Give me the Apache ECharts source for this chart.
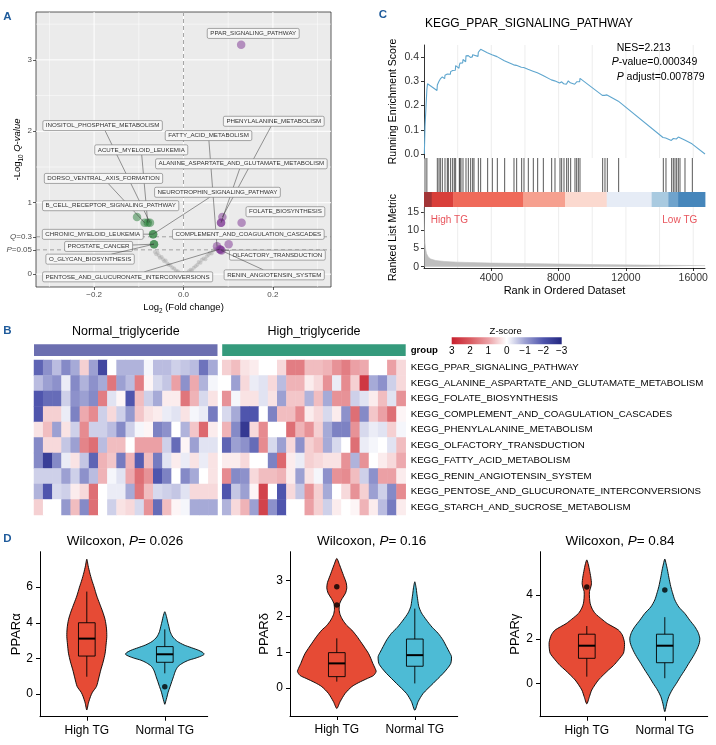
<!DOCTYPE html>
<html>
<head>
<meta charset="utf-8">
<script src="https://cdn.jsdelivr.net/npm/echarts@6.0.0/dist/echarts.min.js"></script>
<style>
html,body{margin:0;padding:0;background:#ffffff;}
#chart{width:716px;height:745px;}
</style>
</head>
<body>
<div id="chart"></div>
<script>
// ================= DATA =================
// ---- Panel A : volcano (log2 fold change, -log10 Q) ----
const greyPoints = [[-0.064,0.31],[-0.061,0.28],[-0.058,0.30],[-0.055,0.26],[-0.053,0.23],[-0.049,0.24],[-0.046,0.21],[-0.043,0.18],[-0.040,0.19],[-0.036,0.15],[-0.033,0.13],[-0.029,0.12],[-0.025,0.09],[-0.021,0.08],[-0.017,0.05],[-0.013,0.04],[-0.009,0.02],[-0.004,0.01],
  [0.003,0.01],[0.008,0.02],[0.012,0.04],[0.016,0.06],[0.019,0.05],[0.023,0.09],[0.027,0.11],[0.031,0.13],[0.034,0.17],[0.038,0.16],[0.041,0.20],[0.045,0.22],[0.049,0.21],[0.052,0.25],[0.056,0.27],[0.059,0.30],[0.063,0.29],[0.066,0.33],[0.070,0.35]];
const downPoints = [[-0.104,0.80],[-0.087,0.72],[-0.080,0.72],[-0.075,0.72],[-0.068,0.56],[-0.068,0.56],[-0.066,0.42],[-0.066,0.42]];
const upPoints = [[0.129,3.21],[0.087,0.80],[0.084,0.72],[0.084,0.72],[0.130,0.72],[0.101,0.42],[0.075,0.39],[0.083,0.34],[0.081,0.35],[0.085,0.33]];
const labelNames = ['PPAR_SIGNALING_PATHWAY','INOSITOL_PHOSPHATE_METABOLISM','FATTY_ACID_METABOLISM','PHENYLALANINE_METABOLISM','ACUTE_MYELOID_LEUKEMIA','ALANINE_ASPARTATE_AND_GLUTAMATE_METABOLISM','DORSO_VENTRAL_AXIS_FORMATION','NEUROTROPHIN_SIGNALING_PATHWAY','B_CELL_RECEPTOR_SIGNALING_PATHWAY','FOLATE_BIOSYNTHESIS','CHRONIC_MYELOID_LEUKEMIA','COMPLEMENT_AND_COAGULATION_CASCADES','PROSTATE_CANCER','O_GLYCAN_BIOSYNTHESIS','OLFACTORY_TRANSDUCTION','PENTOSE_AND_GLUCURONATE_INTERCONVERSIONS','RENIN_ANGIOTENSIN_SYSTEM'];
const labelAt = [[0.156,3.37],[-0.181,2.08],[0.056,1.94],[0.202,2.14],[-0.0945,1.74],[0.1295,1.545],[-0.179,1.34],[0.076,1.146],[-0.163,0.958],[0.228,0.874],[-0.203,0.557],[0.145,0.557],[-0.19,0.388],[-0.209,0.21],[0.21,0.266],[-0.125,-0.038],[0.203,-0.01]];
const labelPoint = [[0.129,3.21],[-0.075,0.72],[0.075,0.39],[0.087,0.80],[-0.080,0.72],[0.084,0.72],[-0.087,0.72],[-0.068,0.56],[-0.104,0.80],[0.130,0.72],[-0.068,0.56],[0.101,0.42],[-0.066,0.42],[-0.066,0.42],[0.083,0.34],[0.081,0.35],[0.085,0.33]];
const volcanoXTicks = [-0.2, 0, 0.2];
const volcanoYTicks = [0, 0.34, 0.523, 1, 2, 3];
const pThreshold = 0.34, qThreshold = 0.523;

// ---- Panel C : GSEA ----
const esCurve = [[20,0],[60,0.113],[150,0.108],[170,0.265],[210,0.29],[772,0.262],[792,0.285],[871,0.281],[891,0.3],[950,0.297],[970,0.31],[1069,0.305],[1089,0.318],[1228,0.311],[1248,0.325],[1366,0.318],[1386,0.33],[1436,0.327],[1446,0.335],[1565,0.329],[1584,0.34],[1683,0.334],[1703,0.345],[1782,0.34],[1802,0.35],[1862,0.346],[1881,0.365],[2080,0.354],[2099,0.366],[2129,0.364],[2139,0.375],[2179,0.373],[2198,0.382],[2298,0.376],[2317,0.39],[2476,0.381],[2496,0.405],[2614,0.398],[2634,0.406],[2753,0.399],[2773,0.407],[2872,0.401],[2892,0.41],[2951,0.406],[2971,0.417],[3209,0.403],[3229,0.42],[3347,0.413],[3367,0.432],[3763,0.418],[3783,0.425],[4041,0.41],[4060,0.417],[4338,0.402],[4358,0.408],[4774,0.385],[4794,0.392],[5328,0.368],[5348,0.374],[5487,0.366],[5507,0.372],[5784,0.358],[5804,0.364],[5923,0.357],[5943,0.363],[6180,0.35],[6200,0.356],[6477,0.342],[6497,0.348],[6735,0.335],[6755,0.341],[7072,0.324],[7092,0.33],[7567,0.306],[7587,0.312],[7765,0.302],[7785,0.308],[8062,0.293],[8082,0.298],[8161,0.293],[8181,0.298],[8300,0.29],[8320,0.296],[8458,0.288],[8478,0.294],[8557,0.29],[8577,0.302],[8696,0.294],[8716,0.3],[8954,0.288],[8973,0.295],[9053,0.29],[9073,0.298],[9152,0.294],[9172,0.302],[9251,0.298],[9271,0.312],[10598,0.242],[10618,0.248],[10737,0.242],[10756,0.25],[10875,0.244],[10895,0.25],[11549,0.218],[11568,0.224],[14203,0.068],[14223,0.074],[14361,0.066],[14381,0.072],[14699,0.056],[14719,0.062],[14798,0.058],[14818,0.064],[14897,0.06],[14917,0.066],[14996,0.062],[15016,0.07],[15095,0.066],[15115,0.07],[15194,0.066],[15214,0.07],[15491,0.058],[15511,0.062],[15927,0.042],[15947,0.046],[16700,0.0]];
const hitRanks = [60,170,792,891,970,1089,1248,1386,1446,1584,1703,1802,1881,2099,2139,2198,2317,2496,2634,2773,2892,2971,3229,3367,3783,4060,4358,4794,5348,5507,5804,5943,6200,6497,6755,7092,7587,7785,8082,8181,8320,8478,8577,8716,8973,9073,9172,9271,10618,10756,10895,11568,14223,14381,14719,14818,14917,15016,15115,15214,15511,15947];
const metricCurve = [[1,16.5],[10,14],[25,10],[50,7],[90,5],[150,3.6],[250,2.7],[400,2.1],[700,1.7],[1200,1.45],[2000,1.25],[4000,1.0],[7000,0.8],[10000,0.6],[13000,0.45],[16700,0.3]];
const colourBarBreaks = [0,460,1740,5900,8380,10860,13530,14520,15100,16700];
const esTicks = [0,0.1,0.2,0.3,0.4];
const rankTicks = [4000,8000,12000,16000];
const metricTicks = [0,5,10,15];
const rankGrid = [2000,4000,6000,8000,10000,12000,14000,16000];
const gseaStats = {NES:'2.213', pvalue:'0.000349', padj:'0.007879'};

// ---- Panel B : heatmap (z-scores) ----
const pathways = ['KEGG_PPAR_SIGNALING_PATHWAY','KEGG_ALANINE_ASPARTATE_AND_GLUTAMATE_METABOLISM','KEGG_FOLATE_BIOSYNTHESIS','KEGG_COMPLEMENT_AND_COAGULATION_CASCADES','KEGG_PHENYLALANINE_METABOLISM','KEGG_OLFACTORY_TRANSDUCTION','KEGG_FATTY_ACID_METABOLISM','KEGG_RENIN_ANGIOTENSIN_SYSTEM','KEGG_PENTOSE_AND_GLUCURONATE_INTERCONVERSIONS','KEGG_STARCH_AND_SUCROSE_METABOLISM'];
const normalSamples = ['N01','N02','N03','N04','N05','N06','N07','N08','N09','N10','N11','N12','N13','N14','N15','N16','N17','N18','N19','N20'];
const highSamples = ['H01','H02','H03','H04','H05','H06','H07','H08','H09','H10','H11','H12','H13','H14','H15','H16','H17','H18','H19','H20'];
const normalZ = [
 [-1.8,-1.2,-0.7,-1.3,-0.9,0.5,-1.0,-2.3,0,-0.8,-0.8,-0.8,-0.1,-0.7,-0.7,-0.5,-0.6,-0.7,-1.6,-0.9],
 [-0.7,-1.0,-1.2,-0.2,-1.3,-0.8,-1.2,-0.9,1.6,-1.0,-0.7,1.5,0.1,-0.4,-0.6,1.0,-1.2,0.9,-0.8,-0.1],
 [-2.0,-1.7,-1.7,-0.5,-1.2,-1.0,-1.3,1.5,-0.3,0.1,-2.0,0.7,-0.5,-0.9,0.2,0.2,1.6,0.8,-0.4,0.3],
 [-2.0,0.5,0.5,-0.2,-1.4,0.9,1.3,-0.5,0.4,-0.5,-1.1,0.6,0.3,0.2,-0.2,-0.3,0.3,-0.1,-0.2,-1.5],
 [0.3,0.7,-1.0,0.3,-0.5,1.3,-0.5,-0.5,-0.7,-1.3,-0.5,-0.1,0.1,-1.4,-1.2,0,-0.8,0.6,1.8,0.2],
 [-1.3,0.4,0.4,-0.6,-1.0,1.4,1.7,-0.7,0.7,0.7,0,1.0,1.0,1.0,-0.5,-1.7,0.1,-1.0,-0.3,-0.3],
 [-1.3,-2.5,-1.3,-0.2,0.3,-0.6,-1.8,0.8,0.6,-1.5,0.8,-1.9,0.7,-1.5,-0.3,0.2,-0.2,0.3,-0.2,0.3],
 [-0.5,-0.5,-0.5,-1.0,-0.5,-1.2,-0.7,0.8,-0.1,-0.3,0.9,1.7,1.2,-2.0,-1.4,0,-1.3,-0.9,0,0.3],
 [-0.8,-2.0,-0.4,-0.5,0.2,0.4,1.7,0,-0.2,-0.2,-0.9,1.6,0.7,-0.4,-0.5,-0.6,-0.3,0.4,0.4,0.4],
 [0.5,0,0,-1.1,0.7,-1.3,1.7,0,-0.5,0.3,0.4,-0.4,1.2,-1.7,0.7,0.1,-0.1,-0.9,-0.9,-0.9]
];
const highZ = [
 [0.5,0.7,0.3,0.2,0,0,0.4,1.5,1.5,0.7,0.7,0.8,1.2,1.5,1.0,0.9,0,0,1.0,0.4],
 [0,-1.0,0.4,-0.2,-0.3,0.4,-0.7,0.8,0.8,0.2,0.4,1.2,-0.2,1.3,0.5,2.6,-0.9,-1.2,-0.5,0.4],
 [1.2,-0.1,0.3,0.3,-0.3,0.3,-1.0,0.6,0.6,-0.8,0.7,-0.9,1.2,1.2,-0.5,-0.3,0.2,0.7,-0.3,1.2],
 [-0.4,-0.9,-2.0,-2.0,0,-1.4,0.7,0.7,1.3,0.2,0.4,-0.4,0.2,-1.2,1.7,-1.3,0.6,1.0,1.7,0.1],
 [0.8,-1.3,-2.6,0.4,1.3,0,0,1.7,0.8,1.2,0.5,-0.9,-1.4,-1.4,1.2,-0.4,-0.2,-0.3,0.5,-0.1],
 [-1.8,-1.0,-1.2,-1.7,1.3,-0.4,-1.0,0.4,-1.2,0.5,0.7,-0.9,-0.4,0,1.7,-0.2,-0.1,0,-0.3,0.7],
 [0.2,0.2,0.4,0,0,-1.4,1.8,0.2,-0.2,0.5,0.4,0.3,0.3,1.2,-0.8,1.2,0,0.2,0.4,0.9],
 [1.3,-1.3,-1.2,0.4,0.7,0.7,0.8,0.2,-1.0,0.3,-0.1,-1.2,1.2,1.3,0.7,-0.5,-1.2,1.0,1.0,0.2],
 [-2.0,-0.6,-1.0,0.1,2.4,0,-2.0,0.4,-0.6,1.2,0.5,-0.9,0,0.4,1.2,0.5,-1.0,-0.5,-1.3,1.3],
 [-0.8,0.4,0.8,-1.0,2.4,-1.2,-2.0,0,0,1.0,0.5,-0.5,0.2,0,0.1,0.8,0.2,-0.7,-1.5,0.2]
];

// ---- Panel D : violins ----
const violinGroups = ['High TG','Normal TG'];
const genes = ['PPARα','PPARδ','PPARγ'];
const wilcoxonP = ['0.026','0.16','0.84'];
const densPPARaHigh = [[7.57,0],[7.2,4],[6.8,9],[6.4,15],[6.0,22],[5.5,30],[5.1,38],[4.6,48],[4.17,55],[3.7,59],[3.23,60],[2.8,58],[2.29,55],[1.8,49],[1.35,42],[0.9,36],[0.42,29],[0.1,17],[-0.15,11],[-0.5,5],[-0.9,0]];
const densPPARaNormal = [[4.62,0],[4.35,5],[4.1,8],[3.8,12],[3.5,16],[3.2,24],[2.95,38],[2.75,58],[2.6,80],[2.45,102],[2.33,114],[2.23,118],[2.12,108],[2.0,90],[1.9,72],[1.75,55],[1.55,40],[1.3,32],[0.97,26],[0.7,21],[0.42,16],[0.1,10],[-0.2,6],[-0.4,3],[-0.58,0]];
const densPPARdHigh = [[3.62,0],[3.45,8],[3.3,14],[3.1,22],[2.95,28],[2.8,30],[2.65,26],[2.5,16],[2.37,9],[2.2,7],[2.05,10],[1.9,18],[1.75,30],[1.62,45],[1.45,60],[1.25,75],[1.1,86],[0.97,95],[0.83,102],[0.69,108],[0.55,115],[0.46,118],[0.35,110],[0.27,92],[0.15,65],[0.04,45],[-0.15,25],[-0.38,10],[-0.57,0]];
const densPPARdNormal = [[2.97,0],[2.8,4],[2.65,6],[2.45,9],[2.28,12],[2.1,20],[1.9,35],[1.7,52],[1.53,70],[1.35,84],[1.16,95],[1.0,104],[0.88,110],[0.69,108],[0.55,98],[0.41,85],[0.27,70],[0.13,55],[-0.15,25],[-0.38,10],[-0.62,0]];
const densPPARgHigh = [[5.58,0],[5.35,5],[5.13,8],[4.8,12],[4.5,14],[4.3,11],[4.15,8],[3.9,8],[3.62,10],[3.4,15],[3.16,25],[2.9,45],[2.7,62],[2.41,95],[2.2,106],[2.04,110],[1.85,113],[1.66,113],[1.36,110],[1.06,95],[0.8,80],[0.6,65],[0.15,35],[-0.3,15],[-0.6,8],[-0.93,0]];
const densPPARgNormal = [[5.62,0],[5.4,4],[5.13,8],[4.8,12],[4.37,18],[4.1,23],[3.77,30],[3.45,42],[3.16,60],[2.85,75],[2.56,90],[2.3,100],[2.04,105],[1.85,104],[1.66,100],[1.4,92],[1.21,85],[0.9,72],[0.6,60],[0.3,47],[0.0,35],[-0.3,22],[-0.6,12],[-0.9,6],[-1.05,4],[-1.28,0]];
// box stats: [lower whisker, Q1, median, Q3, upper whisker]
const boxPPARa = [[0.97,2.13,3.11,4.0,5.75],[1.16,1.78,2.23,2.66,3.63]];
const boxPPARd = [[0.18,0.32,0.69,0.99,1.39],[0.13,0.61,0.92,1.37,2.22]];
const boxPPARg = [[0.30,1.13,1.70,2.22,2.59],[0.23,0.93,1.70,2.22,2.99]];
const outPPARa = [[],[0.41]];
const outPPARd = [[2.83,2.32],[]];
const outPPARg = [[4.35],[4.22]];
const violinTicks = [[0,2,4,6],[0,1,2,3],[0,2,4]];

// ================= CHART =================
const FF = 'Liberation Sans';
const violinDensity = [[densPPARaHigh,densPPARaNormal],[densPPARdHigh,densPPARdNormal],[densPPARgHigh,densPPARgNormal]];
const boxStats = [boxPPARa, boxPPARd, boxPPARg];
const outliers = [outPPARa, outPPARd, outPPARg];
const violinYRange = [[-1.275,7.99],[-0.78,3.81],[-1.51,5.95]];
const violinNameGap = [17, 19, 18];
const VSCALE = 1/234, BOX_HALF = 0.107;
const VIOLIN_COLOURS = ['#E64B35','#4DBBD5'];
const HEAT_COLOURS = ['#232780','#4F55AD','#9CA0D2','#FFFFFF','#EBA0A5','#D95A60','#C8202E'];
const BAR_COLOURS = ['#A23537','#D93F3A','#EF6A5A','#F6A08F','#FBD9CF','#E6ECF6','#A9CAE0','#6FA3CC','#4686BB'];
const GROUP_COLOURS = ['#6C6FB0','#359A7C'];
const HIT_BOTTOM = 0.306;
const LABEL_FONT = '6.2px "Liberation Sans"';

const mctx = document.createElement('canvas').getContext('2d');
function textW(t, font){ mctx.font = font; return mctx.measureText(t).width; }

function refLines(xi, yi, vals, vertical, ref, style, z){
  return {type:'custom', xAxisIndex:xi, yAxisIndex:yi, silent:true, z:z, clip:false,
    data: vals.map(v => vertical ? [v, ref] : [ref, v]),
    renderItem: function(params, api){
      const cs = params.coordSys;
      const pt = api.coord([api.value(0), api.value(1)]);
      const shape = vertical ? {x1:pt[0], y1:cs.y, x2:pt[0], y2:cs.y+cs.height}
                             : {x1:cs.x, y1:pt[1], x2:cs.x+cs.width, y2:pt[1]};
      return {type:'line', shape: shape, style: style};
    }};
}

function renderLabel(params, api){
  const i = params.dataIndex;
  const c = api.coord([api.value(0), api.value(1)]);
  const p = api.coord([api.value(2), api.value(3)]);
  const name = labelNames[i];
  const w = textW(name, LABEL_FONT) + 6, h = 10, hw = w/2, hh = h/2;
  const children = [];
  const ddx = Math.max(0, Math.abs(p[0]-c[0]) - hw), ddy = Math.max(0, Math.abs(p[1]-c[1]) - hh);
  if (Math.hypot(ddx, ddy) > 8) {
    const dx = p[0]-c[0], dy = p[1]-c[1];
    const t = Math.min(dx !== 0 ? hw/Math.abs(dx) : Infinity, dy !== 0 ? hh/Math.abs(dy) : Infinity);
    children.push({type:'line', shape:{x1:c[0]+dx*t, y1:c[1]+dy*t, x2:p[0], y2:p[1]}, style:{stroke:'#333', lineWidth:0.5}});
  }
  children.push({type:'rect', shape:{x:c[0]-hw, y:c[1]-hh, width:w, height:h, r:1.5}, style:{fill:'#F6F6F6', stroke:'#707070', lineWidth:0.6}});
  children.push({type:'text', x:c[0], y:c[1], style:{text:name, font:LABEL_FONT, fill:'#333', textAlign:'center', textVerticalAlign:'middle'}});
  return {type:'group', children: children};
}

function violinRenderer(g){
  return function(params, api){
    const i = params.dataIndex, xc = i + 1;
    const dens = violinDensity[g][i];
    const right = dens.map(d => api.coord([xc + d[1]*VSCALE, d[0]]));
    const left = dens.slice(1, -1).reverse().map(d => api.coord([xc - d[1]*VSCALE, d[0]]));
    const s = boxStats[g][i];
    const c = (x, y) => api.coord([x, y]);
    const tl = c(xc-BOX_HALF, s[3]), br = c(xc+BOX_HALF, s[1]);
    const m1 = c(xc-BOX_HALF, s[2]), m2 = c(xc+BOX_HALF, s[2]);
    const w1 = c(xc, s[4]), w2 = c(xc, s[3]), w3 = c(xc, s[1]), w4 = c(xc, s[0]);
    const k = {stroke:'#000', lineWidth:0.9};
    return {type:'group', children:[
      {type:'polygon', shape:{points: right.concat(left), smooth:0.25}, style:{fill:VIOLIN_COLOURS[i], stroke:'#000', lineWidth:0.9}},
      {type:'line', shape:{x1:w1[0],y1:w1[1],x2:w2[0],y2:w2[1]}, style:k},
      {type:'line', shape:{x1:w3[0],y1:w3[1],x2:w4[0],y2:w4[1]}, style:k},
      {type:'rect', shape:{x:tl[0], y:tl[1], width:br[0]-tl[0], height:br[1]-tl[1]}, style:{fill:'none', stroke:'#000', lineWidth:0.9}},
      {type:'line', shape:{x1:m1[0],y1:m1[1],x2:m2[0],y2:m2[1]}, style:{stroke:'#000', lineWidth:2}}
    ]};
  };
}

function heatCells(mat){
  const out = [];
  mat.forEach((row, r) => row.forEach((v, c) => out.push([c, r, v])));
  return out;
}
function groupStrip(xi, samples, colour){
  return {type:'custom', xAxisIndex:xi, yAxisIndex:xi, silent:true, z:2,
    data:[[0, 0, samples.length - 1]],
    renderItem: function(params, api){
      const a = api.coord([api.value(0), 1]);
      const b = api.coord([api.value(2), 0]);
      const bw = api.size([1, 0])[0];
      return {type:'rect', shape:{x:a[0]-bw/2, y:a[1], width:b[0]-a[0]+bw, height:b[1]-a[1]}, style:{fill:colour}};
    }};
}

const hidden = {show:false};
const grids = [
  {left:36, top:12, width:295, height:275, show:true, backgroundColor:'#EBEBEB', borderColor:'#333', borderWidth:0.8},
  {left:424, top:45, width:281, height:113},
  {left:424, top:158, width:281, height:49},
  {left:424, top:207, width:281, height:61},
  {left:34, top:360, width:183.5, height:155},
  {left:222.2, top:360, width:183.5, height:155},
  {left:34, top:344.3, width:183.5, height:11.7},
  {left:222.2, top:344.3, width:183.5, height:11.7},
  {left:451.7, top:337.3, width:110, height:7},
  {left:40, top:551.7, width:167.7, height:165},
  {left:290, top:551.7, width:167.7, height:164.3},
  {left:540, top:551.7, width:167.7, height:165}
].map(g => Object.assign({outerBoundsMode:'none', containLabel:false}, g));

const subRich = {
  sub:{fontSize:6.3, fontFamily:FF, color:'#000', lineHeight:6.3, verticalAlign:'bottom'},
  it:{fontSize:9.5, fontFamily:FF, fontStyle:'italic', color:'#000', lineHeight:14}
};
const fmtMinus = v => (v < 0 ? '\u2212' : '') + Math.abs(v);
const plain = v => String(v);

const xAxes = [
  {gridIndex:0, type:'value', min:-0.33, max:0.33, axisLine:{show:false, onZero:false}, splitLine:hidden,
   axisTick:{show:true, customValues:volcanoXTicks, length:3, lineStyle:{color:'#333', width:0.8}},
   axisLabel:{customValues:volcanoXTicks, formatter:v => (v < 0 ? '\u2212' : '') + Math.abs(v).toFixed(1), fontSize:8, color:'#4D4D4D', margin:4},
   name:'Log{sub|2} (Fold change)', nameLocation:'middle', nameGap:13, nameMoveOverlap:false,
   nameTextStyle:{fontSize:9.5, color:'#000', fontFamily:FF, lineHeight:14, rich:subRich}},
  {gridIndex:1, type:'value', min:0, max:16700, show:false},
  {gridIndex:2, type:'value', min:0, max:16700, show:false},
  {gridIndex:3, type:'value', min:0, max:16700, splitLine:hidden,
   axisLine:{show:true, onZero:false, lineStyle:{color:'#000', width:0.8}},
   axisTick:{show:true, customValues:rankTicks, length:3, lineStyle:{color:'#000', width:0.8}},
   axisLabel:{customValues:rankTicks, formatter:plain, fontSize:10.5, color:'#333', margin:5},
   name:'Rank in Ordered Dataset', nameLocation:'middle', nameGap:17, nameMoveOverlap:false, nameTextStyle:{fontSize:11, color:'#000'}},
  {gridIndex:4, type:'category', data:normalSamples, show:false},
  {gridIndex:5, type:'category', data:highSamples, show:false},
  {gridIndex:6, type:'category', data:normalSamples, show:false},
  {gridIndex:7, type:'category', data:highSamples, show:false},
  {gridIndex:8, type:'value', min:-3, max:3, interval:1, inverse:true, axisLine:hidden, axisTick:hidden, splitLine:hidden,
   axisLabel:{fontSize:10, color:'#000', margin:2, showMinLabel:true, showMaxLabel:true, formatter:fmtMinus}}
];
const yAxes = [
  {gridIndex:0, type:'value', min:-0.18, max:3.67, axisLine:{show:false, onZero:false}, splitLine:hidden,
   axisTick:{show:true, customValues:volcanoYTicks, length:3, lineStyle:{color:'#333', width:0.8}},
   axisLabel:{customValues:volcanoYTicks, fontSize:8, color:'#4D4D4D', margin:4,
     formatter: v => Math.abs(v-pThreshold) < 1e-6 ? '{i|P}=0.05' : (Math.abs(v-qThreshold) < 1e-6 ? '{i|Q}=0.3' : String(v)),
     rich:{i:{fontSize:8, fontStyle:'italic', fontFamily:FF, color:'#4D4D4D'}}},
   name:'-Log{sub|10} {it|Q-value}', nameLocation:'middle', nameGap:12, nameMoveOverlap:false,
   nameTextStyle:{fontSize:9.5, color:'#000', fontFamily:FF, lineHeight:14, rich:subRich}},
  {gridIndex:1, type:'value', min:-0.0165, max:0.45, splitLine:hidden,
   axisLine:{show:true, onZero:false, lineStyle:{color:'#000', width:0.8}},
   axisTick:{show:true, customValues:esTicks, length:3, lineStyle:{color:'#000', width:0.8}},
   axisLabel:{customValues:esTicks, formatter:v => v.toFixed(1), fontSize:10.5, color:'#333', margin:5},
   name:'Running Enrichment Score', nameLocation:'middle', nameGap:25, nameMoveOverlap:false, nameTextStyle:{fontSize:10.5, color:'#000'}},
  {gridIndex:2, type:'value', min:0, max:1, show:false},
  {gridIndex:3, type:'value', min:-0.35, max:16.4, splitLine:hidden,
   axisLine:{show:true, onZero:false, lineStyle:{color:'#000', width:0.8}},
   axisTick:{show:true, customValues:metricTicks, length:3, lineStyle:{color:'#000', width:0.8}},
   axisLabel:{customValues:metricTicks, formatter:plain, fontSize:10.5, color:'#333', margin:5},
   name:'Ranked List Metric', nameLocation:'middle', nameGap:25, nameMoveOverlap:false, nameTextStyle:{fontSize:10.5, color:'#000'}},
  {gridIndex:4, type:'category', data:pathways, inverse:true, show:false},
  {gridIndex:5, type:'category', data:pathways, inverse:true, position:'right',
   axisLine:hidden, axisTick:hidden, splitLine:hidden, axisLabel:{fontSize:9.7, color:'#000', margin:5}},
  {gridIndex:6, type:'value', min:0, max:1, show:false},
  {gridIndex:7, type:'value', min:0, max:1, show:false},
  {gridIndex:8, type:'value', min:0, max:1, show:false}
];
for (let g = 0; g < 3; g++) {
  xAxes.push({gridIndex:9+g, type:'value', min:0.4, max:2.55, splitLine:hidden,
    axisLine:{show:true, onZero:false, lineStyle:{color:'#000', width:1}},
    axisTick:{show:true, customValues:[1,2], length:4, lineStyle:{color:'#000', width:1}},
    axisLabel:{customValues:[1,2], formatter:v => violinGroups[Math.round(v)-1], fontSize:12, color:'#000', margin:8}});
  yAxes.push({gridIndex:9+g, type:'value', min:violinYRange[g][0], max:violinYRange[g][1], splitLine:hidden,
    axisLine:{show:true, onZero:false, lineStyle:{color:'#000', width:1}},
    axisTick:{show:true, customValues:violinTicks[g], length:4, lineStyle:{color:'#000', width:1}},
    axisLabel:{customValues:violinTicks[g], formatter:plain, fontSize:12, color:'#000', margin:7},
    name:genes[g], nameLocation:'middle', nameGap:violinNameGap[g], nameMoveOverlap:false, nameTextStyle:{fontSize:13, color:'#000'}});
}

const series = [];
// Panel A
const white = w => ({stroke:'#FFFFFF', lineWidth:w});
series.push(refLines(0,0,[-0.3,-0.1,0.1,0.3], true, 1, white(0.5), 1));
series.push(refLines(0,0,[-0.2,0,0.2], true, 1, white(1), 1));
series.push(refLines(0,0,[1.5,2.5,3.5], false, 0, white(0.5), 1));
series.push(refLines(0,0,[0,1,2,3], false, 0, white(1), 1));
const dash = {stroke:'#7F7F7F', lineWidth:0.7, lineDash:[4,3]};
series.push(refLines(0,0,[0], true, 1, dash, 2));
series.push(refLines(0,0,[pThreshold, qThreshold], false, 0, dash, 2));
series.push({type:'scatter', xAxisIndex:0, yAxisIndex:0, data:greyPoints, symbolSize:4, itemStyle:{color:'rgba(165,165,165,0.55)'}, silent:true, z:3});
series.push({type:'scatter', xAxisIndex:0, yAxisIndex:0, data:downPoints, symbolSize:8.5, itemStyle:{color:'rgba(27,120,45,0.6)'}, silent:true, z:3});
series.push({type:'scatter', xAxisIndex:0, yAxisIndex:0, data:upPoints, symbolSize:8.5, itemStyle:{color:'rgba(118,40,140,0.6)'}, silent:true, z:3});
series.push({type:'custom', xAxisIndex:0, yAxisIndex:0, silent:true, z:5, clip:false,
  data: labelAt.map((a, i) => [a[0], a[1], labelPoint[i][0], labelPoint[i][1]]), renderItem: renderLabel});
// Panel C
const greyGrid = {stroke:'#EBEBEB', lineWidth:0.9};
series.push(refLines(1,1,rankGrid, true, 0.2, greyGrid, 1));
series.push(refLines(3,3,rankGrid, true, 5, greyGrid, 1));
series.push({type:'line', xAxisIndex:1, yAxisIndex:1, data:esCurve, showSymbol:false, silent:true, z:3,
  lineStyle:{color:'#5FA6CE', width:1.1}});
series.push({type:'custom', xAxisIndex:2, yAxisIndex:2, silent:true, z:2,
  data: colourBarBreaks.slice(0, -1).map((b, i) => [b, 0, colourBarBreaks[i+1]]),
  renderItem: function(params, api){
    const a = api.coord([api.value(0), HIT_BOTTOM]);
    const b = api.coord([api.value(2), 0]);
    return {type:'rect', shape:{x:a[0], y:a[1], width:b[0]-a[0]+0.4, height:b[1]-a[1]}, style:{fill:BAR_COLOURS[params.dataIndex]}};
  }});
series.push({type:'custom', xAxisIndex:2, yAxisIndex:2, silent:true, z:3,
  data: hitRanks.map(r => [r, 1]),
  renderItem: function(params, api){
    const t = api.coord([api.value(0), 1]);
    const b = api.coord([api.value(0), HIT_BOTTOM]);
    return {type:'line', shape:{x1:t[0], y1:t[1], x2:b[0], y2:b[1]}, style:{stroke:'#111', lineWidth:0.7}};
  }});
series.push({type:'line', xAxisIndex:3, yAxisIndex:3, data:metricCurve, showSymbol:false, silent:true, z:2,
  lineStyle:{color:'#BEBEBE', width:0.6}, areaStyle:{color:'#BEBEBE', opacity:1}});
// Panel B
const heatIdx = series.length;
series.push({type:'heatmap', xAxisIndex:4, yAxisIndex:4, data:heatCells(normalZ), itemStyle:{borderWidth:0}, emphasis:{disabled:true}, silent:true});
series.push({type:'heatmap', xAxisIndex:5, yAxisIndex:5, data:heatCells(highZ), itemStyle:{borderWidth:0}, emphasis:{disabled:true}, silent:true});
series.push(groupStrip(6, normalSamples, GROUP_COLOURS[0]));
series.push(groupStrip(7, highSamples, GROUP_COLOURS[1]));
// Panel D
for (let g = 0; g < 3; g++) {
  series.push({type:'custom', xAxisIndex:9+g, yAxisIndex:9+g, silent:true, z:3, clip:false,
    data:[[1,0],[2,0]], renderItem: violinRenderer(g)});
  const pts = [];
  outliers[g].forEach((arr, i) => arr.forEach(v => pts.push([i+1, v])));
  series.push({type:'scatter', xAxisIndex:9+g, yAxisIndex:9+g, data:pts, symbolSize:5.5, itemStyle:{color:'#000'}, silent:true, z:6});
}

function gText(x, y, text, opts){
  return {type:'text', x:x, y:y, silent:true, z:100,
    style: Object.assign({text:text, fontSize:12, fontFamily:FF, fill:'#000', textAlign:'left', textVerticalAlign:'middle'}, opts || {})};
}
const italic = size => ({i:{fontSize:size, fontFamily:FF, fontStyle:'italic', fill:'#000', color:'#000'}});
const letterStyle = {fontSize:11.5, fontWeight:'bold', fill:'#1F5B9B', textAlign:'center'};
const stops = HEAT_COLOURS.slice().reverse().map((c, i) => ({offset:i/6, color:c}));
const graphics = [
  gText(7.5, 16.7, 'A', letterStyle),
  gText(7.5, 330.8, 'B', letterStyle),
  gText(383, 15, 'C', letterStyle),
  gText(7.5, 539, 'D', letterStyle),
  gText(425, 23.3, 'KEGG_PPAR_SIGNALING_PATHWAY', {fontSize:12}),
  gText(616.7, 47.7, 'NES=' + gseaStats.NES, {fontSize:10.5}),
  gText(611.7, 61.7, '{i|P}-value=' + gseaStats.pvalue, {fontSize:10.5, rich:italic(10.5)}),
  gText(616.7, 76.7, '{i|P} adjust=' + gseaStats.padj, {fontSize:10.5, rich:italic(10.5)}),
  gText(430.7, 220, 'High TG', {fontSize:10, fill:'#E8545C'}),
  gText(697.3, 220, 'Low TG', {fontSize:10, fill:'#E8545C', textAlign:'right'}),
  gText(125.8, 331.7, 'Normal_triglyceride', {fontSize:12.5, textAlign:'center'}),
  gText(314, 331.7, 'High_triglyceride', {fontSize:12.5, textAlign:'center'}),
  gText(505.7, 331.2, 'Z-score', {fontSize:9.5, textAlign:'center'}),
  gText(410.7, 350.7, 'group', {fontSize:9.6, fontWeight:'bold'}),
  {type:'rect', silent:true, z:100, shape:{x:451.7, y:337.3, width:110, height:7},
   style:{fill: new echarts.graphic.LinearGradient(0, 0, 1, 0, stops)}}
];
const dTitleX = [125, 371.7, 620];
for (let g = 0; g < 3; g++) {
  graphics.push(gText(dTitleX[g], 541.7, 'Wilcoxon, {i|P}= ' + wilcoxonP[g], {fontSize:13.5, textAlign:'center', rich:italic(13.5)}));
}

const option = {
  animation: false,
  textStyle: {fontFamily: FF},
  grid: grids,
  xAxis: xAxes,
  yAxis: yAxes,
  visualMap: [{show:false, type:'continuous', min:-3, max:3, dimension:2, seriesIndex:[heatIdx, heatIdx+1],
    inRange:{color: HEAT_COLOURS}}],
  series: series,
  graphic: {elements: graphics}
};

const chart = echarts.init(document.getElementById('chart'), null, {renderer:'canvas', width:716, height:745});
chart.setOption(option);
</script>
</body>
</html>
